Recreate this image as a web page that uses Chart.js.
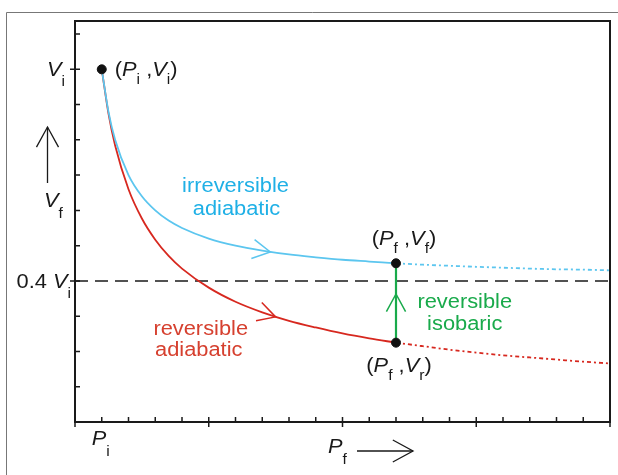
<!DOCTYPE html>
<html>
<head>
<meta charset="utf-8">
<script src="https://cdn.jsdelivr.net/npm/chart.js@4.4.1/dist/chart.umd.min.js"></script>
<style>
  body { margin: 0; background: #fff; }
</style>
</head>
<body>
<canvas id="myChart" width="618" height="475"></canvas>
<script>
// pressure in units of the minor tick, volume as a fraction of Vi
const pSolid = [1, 1.25, 1.5, 2, 2.5, 3, 3.5, 4, 5, 6, 7, 8, 9, 10, 11, 12];
const vIrrev = [1.0, 0.88, 0.80, 0.70, 0.64, 0.60, 0.571, 0.55, 0.52, 0.50, 0.486, 0.475, 0.467, 0.46, 0.455, 0.45];
const vRev = [1.0, 0.875, 0.784, 0.66, 0.577, 0.517, 0.471, 0.435, 0.381, 0.341, 0.311, 0.287, 0.268, 0.251, 0.237, 0.225];
const pExt = [12, 13, 14, 15, 16, 17, 18, 19, 20];
const vIrrevExt = [0.45, 0.446, 0.443, 0.44, 0.4375, 0.435, 0.433, 0.432, 0.43];
const vRevExt = [0.225, 0.215, 0.205, 0.197, 0.189, 0.183, 0.177, 0.171, 0.166];
const vLimit = 0.4;
const pI = 1, pF = 12;
const vI = 1.0, vF = 0.45, vR = 0.225;

const xTicks = [0, 1, 2, 3, 4, 5, 6, 7, 8, 9, 10, 11, 12, 13, 14, 15, 16, 17, 18, 19, 20];
const xMajor = [0, 5, 10, 15, 20];
const yTicks = [0, 0.1, 0.2, 0.3, 0.4, 0.5, 0.6, 0.7, 0.8, 0.9, 1.0, 1.1];
const yMajor = [0.4, 1.0];

const BLUE = "#5cc6ef", BLUE_TXT = "#1fb0e6";
const RED = "#d7281f", RED_TXT = "#d6402f";
const GREEN = "#19aa4b";
const FONT = '"Liberation Sans", Arial, sans-serif';
const SX = 1.12;

const pts = (xs, ys) => xs.map((x, i) => ({ x: x, y: ys[i] }));

function textRun(ctx, parts, x, y, align, subOff) {
  const drop = subOff || 8;
  const font = k => (k === "i" ? "italic " : "") + (k === "s" ? "14px " : "19.5px ") + FONT;
  let w = 0;
  parts.forEach(p => { ctx.font = font(p[1]); w += ctx.measureText(p[0]).width * SX; });
  let cx = align === "center" ? x - w / 2 : align === "right" ? x - w : x;
  ctx.textAlign = "left";
  ctx.textBaseline = "alphabetic";
  parts.forEach(p => {
    ctx.font = font(p[1]);
    ctx.save();
    ctx.translate(cx, y + (p[1] === "s" ? drop : 0));
    ctx.scale(SX, 1);
    ctx.fillText(p[0], 0, 0);
    ctx.restore();
    cx += ctx.measureText(p[0]).width * SX;
  });
}

function chevron(ctx, x, y, ang, len, half) {
  ctx.beginPath();
  ctx.moveTo(x - len * Math.cos(ang - half), y - len * Math.sin(ang - half));
  ctx.lineTo(x, y);
  ctx.lineTo(x - len * Math.cos(ang + half), y - len * Math.sin(ang + half));
  ctx.stroke();
}

const deco = {
  id: "deco",
  beforeDraw(chart) {
    const ctx = chart.ctx;
    ctx.save();
    ctx.strokeStyle = "#777";
    ctx.lineWidth = 1;
    ctx.beginPath();
    ctx.moveTo(6.5, 475);
    ctx.lineTo(6.5, 12.5);
    ctx.lineTo(618, 12.5);
    ctx.stroke();
    ctx.restore();
  },
  afterDraw(chart) {
    const ctx = chart.ctx;
    const a = chart.chartArea;
    const xs = chart.scales.x, ys = chart.scales.y;
    ctx.save();
    // frame
    ctx.strokeStyle = "#1a1a1a";
    ctx.lineWidth = 2;
    ctx.strokeRect(a.left, a.top, a.right - a.left, a.bottom - a.top);
    // ticks
    ctx.lineWidth = 1.5;
    ctx.beginPath();
    xTicks.forEach(v => {
      const px = xs.getPixelForValue(v);
      const big = xMajor.includes(v);
      ctx.moveTo(px, a.bottom + (big ? 5 : 0));
      ctx.lineTo(px, a.bottom - 5);
    });
    yTicks.forEach(v => {
      const py = ys.getPixelForValue(v);
      const big = yMajor.includes(v);
      ctx.moveTo(a.left - (big ? 5 : 0), py);
      ctx.lineTo(a.left + 5, py);
    });
    ctx.stroke();

    // tick labels
    ctx.fillStyle = "#1a1a1a";
    textRun(ctx, [["V", "i"], ["i", "s"]], a.left - 10, ys.getPixelForValue(vI) + 7, "right", 10);
    textRun(ctx, [["0.4 ", "n"], ["V", "i"], ["i", "s"]], a.left - 4, ys.getPixelForValue(vLimit) + 7, "right", 10);
    textRun(ctx, [["P", "i"], ["i", "s"]], xs.getPixelForValue(pI) - 10, a.bottom + 23, "left", 11);

    // axis titles
    textRun(ctx, [["P", "i"], ["f", "s"]], 328, a.bottom + 31, "left", 11);
    textRun(ctx, [["V", "i"], ["f", "s"]], 44, 207, "left", 11);
    ctx.strokeStyle = "#1a1a1a";
    ctx.lineWidth = 1.3;
    ctx.beginPath();
    ctx.moveTo(357, a.bottom + 29);
    ctx.lineTo(413, a.bottom + 29);
    ctx.moveTo(47.5, 183);
    ctx.lineTo(47.5, 127);
    ctx.stroke();
    chevron(ctx, 413, a.bottom + 29, 0, 23, 0.5);
    chevron(ctx, 47.5, 127, -Math.PI / 2, 23, 0.5);

    // point labels
    const pix = (x, y) => [xs.getPixelForValue(x), ys.getPixelForValue(y)];
    let p = pix(pI, vI);
    textRun(ctx, [["(", "n"], ["P", "i"], ["i", "s"], [" ,", "n"], ["V", "i"], ["i", "s"], [")", "n"]], p[0] + 13, p[1] + 7, "left");
    p = pix(pF, vF);
    textRun(ctx, [["(", "n"], ["P", "i"], ["f", "s"], [" ,", "n"], ["V", "i"], ["f", "s"], [")", "n"]], p[0] + 8, p[1] - 18, "center");
    p = pix(pF, vR);
    textRun(ctx, [["(", "n"], ["P", "i"], ["f", "s"], [" ,", "n"], ["V", "i"], ["r", "s"], [")", "n"]], p[0] + 3, p[1] + 29, "center");

    // process labels
    ctx.fillStyle = BLUE_TXT;
    p = pix(6.0, 0.653);
    textRun(ctx, [["irreversible", "n"]], p[0], p[1], "center");
    textRun(ctx, [["adiabatic", "n"]], p[0] + 1, p[1] + 23, "center");
    ctx.fillStyle = RED_TXT;
    p = pix(4.7, 0.247);
    textRun(ctx, [["reversible", "n"]], p[0], p[1], "center");
    textRun(ctx, [["adiabatic", "n"]], p[0] - 2, p[1] + 21, "center");
    ctx.fillStyle = GREEN;
    p = pix(14.57, 0.323);
    textRun(ctx, [["reversible", "n"]], p[0], p[1], "center");
    textRun(ctx, [["isobaric", "n"]], p[0], p[1] + 22, "center");

    // direction arrows on the paths
    const arrows = [
      { tip: [7.3, 0.482], back: [6.3, 0.495], color: BLUE },
      { tip: [7.5, 0.298], back: [6.5, 0.322], color: RED },
      { tip: [12, 0.363], back: [12, 0.30], color: GREEN }
    ];
    ctx.lineWidth = 1.5;
    arrows.forEach(ar => {
      const t = pix(ar.tip[0], ar.tip[1]);
      const b = pix(ar.back[0], ar.back[1]);
      ctx.strokeStyle = ar.color;
      chevron(ctx, t[0], t[1], Math.atan2(t[1] - b[1], t[0] - b[0]), 20, 0.5);
    });
    ctx.restore();
  }
};

const config = {
  type: "scatter",
  data: {
    datasets: [
      {
        label: "states",
        data: pts([pI, pF, pF], [vI, vF, vR]),
        backgroundColor: "#111",
        borderColor: "#111",
        pointRadius: 4.5,
        showLine: false
      },
      {
        label: "reversible isobaric",
        data: pts([pF, pF], [vR, vF]),
        showLine: true,
        borderColor: GREEN,
        borderWidth: 2.2,
        pointRadius: 0
      },
      {
        label: "irreversible adiabatic",
        data: pts(pSolid, vIrrev),
        showLine: true,
        borderColor: BLUE,
        borderWidth: 1.8,
        pointRadius: 0,
        cubicInterpolationMode: "monotone"
      },
      {
        label: "reversible adiabatic",
        data: pts(pSolid, vRev),
        showLine: true,
        borderColor: RED,
        borderWidth: 1.8,
        pointRadius: 0,
        cubicInterpolationMode: "monotone"
      },
      {
        label: "irreversible ext",
        data: pts(pExt, vIrrevExt),
        showLine: true,
        borderColor: BLUE,
        borderWidth: 1.8,
        borderDash: [4, 3, 2, 3],
        pointRadius: 0,
        cubicInterpolationMode: "monotone"
      },
      {
        label: "reversible ext",
        data: pts(pExt, vRevExt),
        showLine: true,
        borderColor: RED,
        borderWidth: 1.8,
        borderDash: [4, 3, 2, 3],
        pointRadius: 0,
        cubicInterpolationMode: "monotone"
      },
      {
        label: "0.4 Vi",
        data: pts([0, 20], [vLimit, vLimit]),
        showLine: true,
        borderColor: "#1a1a1a",
        borderWidth: 1.6,
        borderDash: [13, 7],
        pointRadius: 0
      }
    ]
  },
  options: {
    responsive: false,
    animation: false,
    layout: { padding: { left: 75, right: 8, top: 21, bottom: 53 } },
    plugins: { legend: { display: false }, tooltip: { enabled: false } },
    scales: {
      x: { type: "linear", min: 0, max: 20, display: false },
      y: { type: "linear", min: 0, max: 1.137, display: false }
    }
  },
  plugins: [deco]
};

const myChart = new Chart(document.getElementById("myChart"), config);
</script>
</body>
</html>
